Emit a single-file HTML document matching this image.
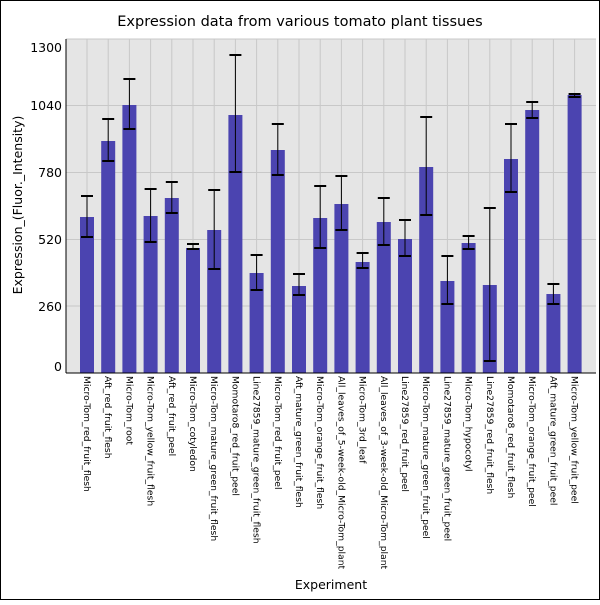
<!DOCTYPE html>
<html><head><style>body{margin:0;background:#fff}</style></head><body>
<svg width="600" height="600" xmlns="http://www.w3.org/2000/svg" font-family="DejaVu Sans, Liberation Sans, sans-serif">
<rect x="0.5" y="0.5" width="599" height="599" fill="#fff" stroke="#000"/>
<text x="300" y="26" font-size="14.5" text-anchor="middle">Expression data from various tomato plant tissues</text>
<rect x="66" y="39" width="530" height="334" fill="#e5e5e5"/>
<g stroke="#c8c8c8" stroke-width="1" id="grid"></g>
<g id="bars"></g>
<line x1="66" y1="39" x2="66" y2="373" stroke="#000"/>
<line x1="66" y1="373" x2="596" y2="373" stroke="#000"/>
<g font-size="12.5" text-anchor="end" id="yl"></g>
<text transform="translate(22,205) rotate(-90)" font-size="12.5" text-anchor="middle">Expression_(Fluor._Intensity)</text>
<text x="331" y="589" font-size="12.5" text-anchor="middle">Experiment</text>
<g id="xl" font-size="9.2"></g>
</svg>
<script>
var ns="http://www.w3.org/2000/svg";
function el(p,t,a,txt){var e=document.createElementNS(ns,t);for(var k in a)e.setAttribute(k,a[k]);if(txt)e.textContent=txt;document.getElementById(p).appendChild(e);}
var names=["Micro-Tom_red_fruit_flesh","Aft_red_fruit_flesh","Micro-Tom_root","Micro-Tom_yellow_fruit_flesh","Aft_red_fruit_peel","Micro-Tom_cotyledon","Micro-Tom_mature_green_fruit_flesh","Momotaro8_red_fruit_peel","Line27859_mature_green_fruit_flesh","Micro-Tom_red_fruit_peel","Aft_mature_green_fruit_flesh","Micro-Tom_orange_fruit_flesh","All_leaves_of_5-week-old_Micro-Tom_plant","Micro-Tom_3rd_leaf","All_leaves_of_3-week-old_Micro-Tom_plant","Line27859_red_fruit_peel","Micro-Tom_mature_green_fruit_peel","Line27859_mature_green_fruit_peel","Micro-Tom_hypocotyl","Line27859_red_fruit_flesh","Momotaro8_red_fruit_flesh","Micro-Tom_orange_fruit_peel","Aft_mature_green_fruit_peel","Micro-Tom_yellow_fruit_peel"];
var d=[[217,196,237],[141,119,161],[105,79,129],[216,189,242],[198,182,213],[248,244,249],[230,190,269],[115,55,172],[273,255,290],[150,124,175],[286,274,295],[218,186,248],[204,176,230],[262,253,268],[222,198,245],[239,220,256],[167,117,215],[281,256,304],[243,236,249],[285,208,361],[159,124,192],[110,102,118],[294,284,304],[95,94,97]];
var yt=[[0,373,371],[260,306,311],[520,239.5,244],[780,172.5,177],[1040,105.5,110],[1300,39,52]];
yt.forEach(function(t){el("grid","line",{x1:66,x2:596,y1:t[1],y2:t[1]});el("yl","text",{x:62,y:t[2]},""+t[0]);});
for(var i=0;i<24;i++){var c=87+i*21.2;el("grid","line",{x1:c,x2:c,y1:39,y2:373});}
d.forEach(function(v,i){var c=87+i*21.2;
el("bars","rect",{x:c-7,y:v[0],width:14,height:373-v[0],fill:"#4b44b0"});
el("bars","line",{x1:c,x2:c,y1:v[1],y2:v[2],stroke:"#000","stroke-width":1});
el("bars","line",{x1:c-6,x2:c+6,y1:v[1],y2:v[1],stroke:"#000","stroke-width":2});
el("bars","line",{x1:c-6,x2:c+6,y1:v[2],y2:v[2],stroke:"#000","stroke-width":2});
el("xl","text",{transform:"translate("+(c-3)+",376) rotate(90)"},names[i]);});
</script>
</body></html>
